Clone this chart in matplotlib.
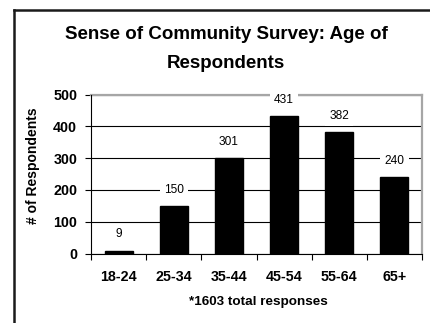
import matplotlib
matplotlib.use("Agg")
import matplotlib.pyplot as plt
from matplotlib.lines import Line2D

plt.rcParams['font.family'] = ['Liberation Sans', 'DejaVu Sans']

# Survey data
age_groups = ["18-24", "25-34", "35-44", "45-54", "55-64", "65+"]
respondents = [9, 150, 301, 431, 382, 240]
y_ticks = [0, 100, 200, 300, 400, 500]
title_line1 = "Sense of Community Survey: Age of"
title_line2 = "Respondents"
y_label = "# of Respondents"
footnote = "*1603 total responses"

W, H = 430, 323
DPI = 100
fig = plt.figure(figsize=(W / DPI, H / DPI), dpi=DPI)
fig.patch.set_facecolor("white")

def fx(px):
    return px / W

def fy(py):
    return 1 - py / H

# Chart frame (extends past the right and bottom edges)
fig.add_artist(Line2D([fx(14), fx(14)], [fy(10), fy(H + 5)], color="#1a1a1a",
                      lw=1.8, transform=fig.transFigure))
fig.add_artist(Line2D([fx(14), fx(W + 5)], [fy(10), fy(10)], color="#1a1a1a",
                      lw=1.8, transform=fig.transFigure))

ax = fig.add_axes([fx(91), fy(253.5), fx(422) - fx(91), (253.5 - 94.5) / H])

x = list(range(len(age_groups)))
ax.bar(x, respondents, width=0.51, color="black", edgecolor="black", zorder=3)

ax.set_xlim(-0.5, len(age_groups) - 0.5)
ax.set_ylim(0, 500)
ax.set_yticks(y_ticks)
ax.set_yticklabels([str(v) for v in y_ticks], fontsize=10.3, fontweight="bold")
ax.set_xticks(x)
ax.set_xticklabels(age_groups, fontsize=10.3, fontweight="bold")
ax.set_xticks([i - 0.5 for i in range(len(age_groups) + 1)], minor=True)

ax.tick_params(axis="x", which="major", length=0, pad=12)
ax.tick_params(axis="x", which="minor", length=4, width=0.8, direction="out", color="black")
ax.tick_params(axis="y", which="major", length=4, width=0.8, direction="out", pad=6, color="black")

ax.yaxis.grid(True, color="black", lw=0.8, zorder=0)
ax.set_axisbelow(True)

for side in ("top", "right"):
    ax.spines[side].set_color("#a6a6a6")
    ax.spines[side].set_linewidth(1.6)
for side in ("left", "bottom"):
    ax.spines[side].set_color("black")
    ax.spines[side].set_linewidth(0.8)
    ax.spines[side].set_zorder(4)

for xi, v in zip(x, respondents):
    ax.annotate(str(v), (xi, v), xytext=(0, 11.7), textcoords="offset points",
                ha="center", va="center", fontsize=8.6, zorder=5,
                bbox=dict(boxstyle="square,pad=0.35", facecolor="white", edgecolor="none"),
                annotation_clip=False)

fig.text(fx(226), fy(34.5), title_line1, ha="center", va="center",
         fontsize=13.5, fontweight="bold")
fig.text(fx(226), fy(63), title_line2, ha="center", va="center",
         fontsize=13.5, fontweight="bold")
fig.text(fx(33), fy(166), y_label, ha="center", va="center", rotation=90,
         fontsize=10, fontweight="bold")
fig.text(fx(258), fy(301.5), footnote, ha="center", va="center",
         fontsize=9.7, fontweight="bold")

fig.savefig("out.png", dpi=DPI, facecolor="white")
